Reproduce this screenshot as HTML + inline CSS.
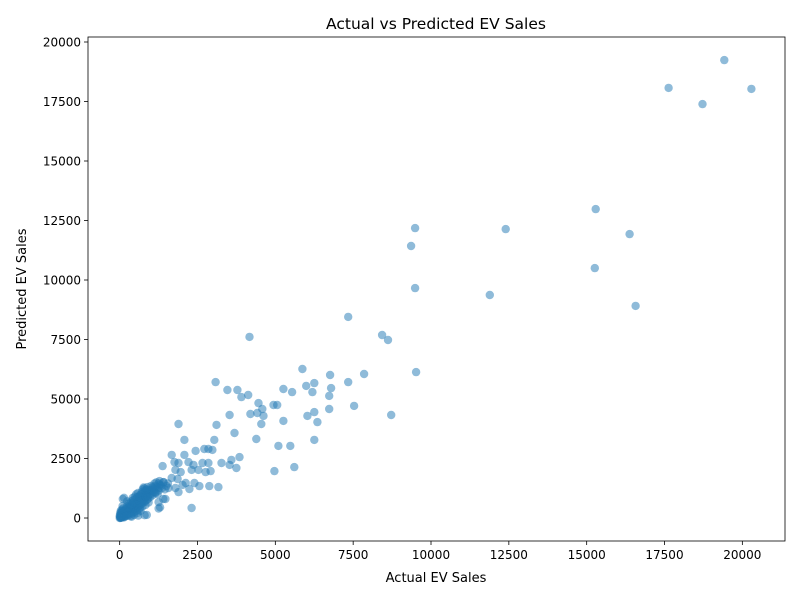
<!DOCTYPE html>
<html><head><meta charset="utf-8"><style>
body{margin:0;background:#fff;}
svg text{font-family:"DejaVu Sans","Liberation Sans",sans-serif;fill:#000;}
</style></head><body>
<svg id="chart" width="800" height="600" xmlns="http://www.w3.org/2000/svg">
<rect width="800" height="600" fill="#fff"/>
<text x="436" y="29" font-size="15.5" text-anchor="middle">Actual vs Predicted EV Sales</text>
<text x="436" y="582" font-size="13" text-anchor="middle">Actual EV Sales</text>
<text transform="translate(26,289) rotate(-90)" font-size="13" text-anchor="middle">Predicted EV Sales</text>
<g id="points"></g>
<g id="axes"></g>
</svg>
<script>
const xTicks=[0,2500,5000,7500,10000,12500,15000,17500,20000];
const yTicks=[0,2500,5000,7500,10000,12500,15000,17500,20000];
const actual=[17630,19420,18720,20290,15290,9490,12400,16380,9360,15260,9490,11890,16570,7340,4170,8430,8620,
5870,6760,7850,9520,3080,7340,3460,3780,4130,3910,5260,5540,5990,6250,6190,6790,6730,4460,4940,5060,4580,7530,3530,4200,4420,4620,6030,6250,6730,5260,6350,8720,3110,4550,1890,3690,2080,3040,4390,6250,3850,5100,5480,4970,5610,3590,3750,3530,3170,
1670,2080,2440,2720,2850,2980,1380,1760,1890,2210,2370,2660,2850,3270,1790,1960,2310,2530,2760,2920,1860,2120,2400,2560,2880,1670,2020,2240,1790,1890,1410,1570,1250,1470,1250,2310,960,800,1150,420,100,870,
0,20,40,60,80,100,120,150,180,200,220,250,280,300,320,350,380,400,420,450,480,500,520,550,580,600,620,650,680,700,720,750,780,800,820,850,880,900,920,950,980,1000,1050,1100,1150,1200,1250,1300,1350,1400,30,50,10,70,90,110,130,160,190,230,260,290,310,340,370,410,440,470,510,540,570,610,640,660,690,730,760,790,830,860,890,930,960,1010,1060,1120,1180,1220,1280,1330,1450,1500,1550,1000,900,1100,700,750,650,550,450,350,250,150,50,5,15,25,35,45,55,65,75,85,95,140,170,210,240,270,330,360,390,430,460,490,530,560,590,630,670,710,740,770,810,840,870,1050,1150,1250,380,600,800,1300,1250,1400];
const predicted=[18070,19240,17390,18030,12980,12180,12140,11930,11430,10500,9660,9370,8910,8450,7610,7690,7480,
6260,6010,6050,6130,5710,5710,5380,5380,5170,5080,5420,5290,5550,5670,5290,5460,5130,4830,4750,4750,4580,4710,4330,4370,4410,4290,4290,4450,4580,4080,4030,4330,3910,3950,3950,3570,3280,3280,3320,3280,2560,3030,3030,1970,2140,2440,2100,2230,1300,
2650,2650,2820,2900,2900,2860,2180,2350,2310,2350,2230,2310,2310,2310,2020,1930,2020,2020,1930,1970,1640,1470,1470,1340,1340,1680,1390,1220,1260,1090,1510,1260,1260,800,670,420,1180,840,1090,840,800,130,
0,30,10,80,40,120,60,200,100,250,150,300,180,380,220,420,280,480,320,550,380,600,420,650,460,720,520,780,560,850,620,900,660,950,700,1000,760,1050,820,1100,880,1150,950,1200,1050,1300,1150,1400,1250,1500,150,250,60,200,300,400,20,50,380,500,100,600,450,150,700,200,650,250,800,300,880,350,950,420,1000,480,1050,1250,550,1150,1300,650,1000,1350,1250,1450,1500,1000,1550,1350,1200,1350,1450,1000,900,1100,700,750,650,550,450,350,250,150,50,100,200,5,300,120,20,350,180,90,500,850,300,80,700,450,620,90,560,750,130,900,1000,200,1050,900,300,1100,1200,1280,1150,900,1200,1300,1350,1450,50,100,120,450,400,800];

const L=88,R=785,T=37,B=541;
const xMin=-1017,xMax=21370,yMin=-966,yMax=20210;
function sx(v){return L+(v-xMin)/(xMax-xMin)*(R-L);}
function sy(v){return B-(v-yMin)/(yMax-yMin)*(B-T);}
const NS="http://www.w3.org/2000/svg";
const pg=document.getElementById('points');
for(let i=0;i<actual.length;i++){
  const c=document.createElementNS(NS,'circle');
  c.setAttribute('cx',sx(actual[i]).toFixed(1));
  c.setAttribute('cy',sy(predicted[i]).toFixed(1));
  c.setAttribute('r','4.2');
  c.setAttribute('fill','#1f77b4');
  c.setAttribute('fill-opacity','0.5');
  
  
  pg.appendChild(c);
}
const ax=document.getElementById('axes');
const frame=document.createElementNS(NS,'rect');
frame.setAttribute('x',L);frame.setAttribute('y',T);frame.setAttribute('width',R-L);frame.setAttribute('height',B-T);
frame.setAttribute('fill','none');frame.setAttribute('stroke','#000');frame.setAttribute('stroke-width','0.8');


ax.appendChild(frame);
xTicks.forEach(t=>{
  const x=sx(t);
  const ln=document.createElementNS(NS,'line');
  ln.setAttribute('x1',x);ln.setAttribute('x2',x);ln.setAttribute('y1',B);ln.setAttribute('y2',B+4);
  ln.setAttribute('stroke','#000');ln.setAttribute('stroke-width','0.8');
  
  
  ax.appendChild(ln);
  const tx=document.createElementNS(NS,'text');
  tx.setAttribute('x',x);tx.setAttribute('y',B+18);tx.setAttribute('font-size','12');tx.setAttribute('text-anchor','middle');
  tx.textContent=t;
  
  
  ax.appendChild(tx);
});
yTicks.forEach(t=>{
  const y=sy(t);
  const ln=document.createElementNS(NS,'line');
  ln.setAttribute('x1',L-4);ln.setAttribute('x2',L);ln.setAttribute('y1',y);ln.setAttribute('y2',y);
  ln.setAttribute('stroke','#000');ln.setAttribute('stroke-width','0.8');
  
  
  ax.appendChild(ln);
  const tx=document.createElementNS(NS,'text');
  tx.setAttribute('x',L-7);tx.setAttribute('y',y+4.5);tx.setAttribute('font-size','12');tx.setAttribute('text-anchor','end');
  tx.textContent=t;
  
  
  ax.appendChild(tx);
});
</script>
</body></html>
